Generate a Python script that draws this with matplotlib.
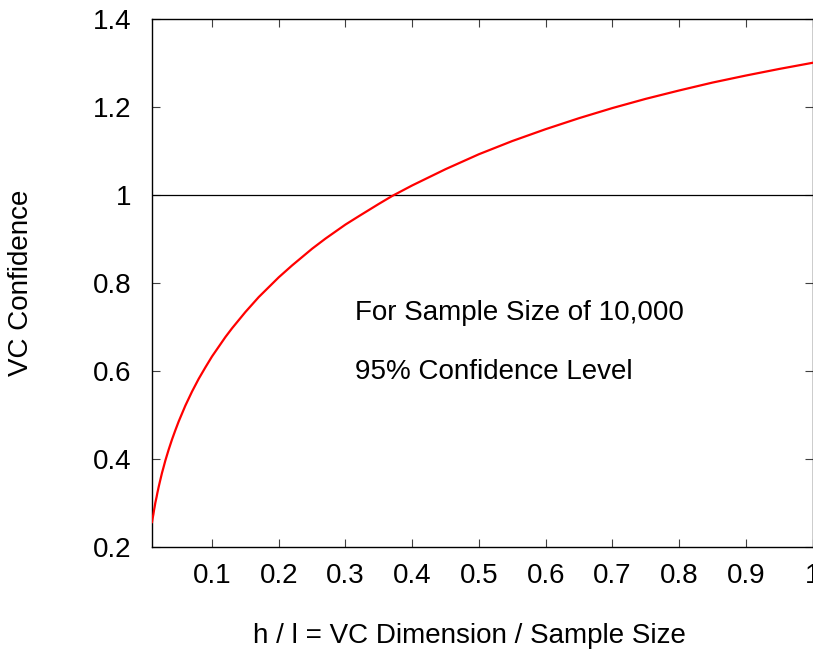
import numpy as np
import matplotlib
matplotlib.use("Agg")
import matplotlib.pyplot as plt

plt.rcParams['font.family'] = ['Liberation Sans', 'DejaVu Sans']

# VC confidence (h/l, confidence)
ratio = [0.01, 0.011, 0.012, 0.013, 0.014, 0.015, 0.017, 0.018, 0.02, 0.022,
         0.025, 0.027, 0.03, 0.035, 0.04, 0.045, 0.05, 0.06, 0.07, 0.08, 0.09,
         0.1, 0.11, 0.12, 0.13, 0.15, 0.17, 0.18, 0.2, 0.22, 0.25, 0.27, 0.3,
         0.32, 0.35, 0.37, 0.4, 0.45, 0.5, 0.55, 0.6, 0.65, 0.7, 0.75, 0.8,
         0.85, 0.9, 0.95, 1.0]
confidence = [0.256, 0.265, 0.273, 0.283, 0.291, 0.300, 0.314, 0.322, 0.336,
              0.349, 0.368, 0.379, 0.396, 0.421, 0.444, 0.465, 0.485, 0.521,
              0.553, 0.582, 0.608, 0.633, 0.655, 0.677, 0.697, 0.734, 0.768,
              0.783, 0.813, 0.840, 0.878, 0.901, 0.933, 0.952, 0.980, 0.998,
              1.022, 1.059, 1.093, 1.123, 1.150, 1.175, 1.198, 1.219, 1.238,
              1.256, 1.272, 1.287, 1.301]

xticks = [0.1, 0.2, 0.3, 0.4, 0.5, 0.6, 0.7, 0.8, 0.9, 1.0]
xtick_labels = ["0.1", "0.2", "0.3", "0.4", "0.5", "0.6", "0.7", "0.8", "0.9", "1"]
yticks = [0.2, 0.4, 0.6, 0.8, 1.0, 1.2, 1.4]
ytick_labels = ["0.2", "0.4", "0.6", "0.8", "1", "1.2", "1.4"]

fs = 20

fig = plt.figure(figsize=(8.13, 6.5), dpi=100)
W, H = 813.0, 650.0
ax = fig.add_axes((152 / W, (H - 546.7) / H, (812.5 - 152) / W, (546.7 - 19.3) / H))

ax.plot(ratio, confidence, color="#ff0000", lw=1.6, zorder=3)
ax.axhline(1.0, color="black", lw=0.9, zorder=2)

ax.set_xlim(0.01, 1.0)
ax.set_ylim(0.2, 1.4)
ax.set_xticks(xticks)
ax.set_xticklabels(xtick_labels)
ax.set_yticks(yticks)
ax.set_yticklabels(ytick_labels)
ax.tick_params(direction="in", length=6, width=0.8, color="#404040",
               top=True, right=True, labelsize=fs)
ax.tick_params(axis="x", pad=12)
ax.tick_params(axis="y", pad=15)
for s in ax.spines.values():
    s.set_linewidth(1.0)

ax.text(0.315, 0.732, "For Sample Size of 10,000", fontsize=fs, va="center")
ax.text(0.315, 0.597, "95% Confidence Level", fontsize=fs, va="center")

ax.set_xlabel("h / l = VC Dimension / Sample Size", fontsize=fs)
ax.set_ylabel("VC Confidence", fontsize=fs)
ax.xaxis.set_label_coords(0.481, -0.145)
ax.yaxis.set_label_coords(-0.178, 0.5)

fig.savefig("out.png", dpi=100)
